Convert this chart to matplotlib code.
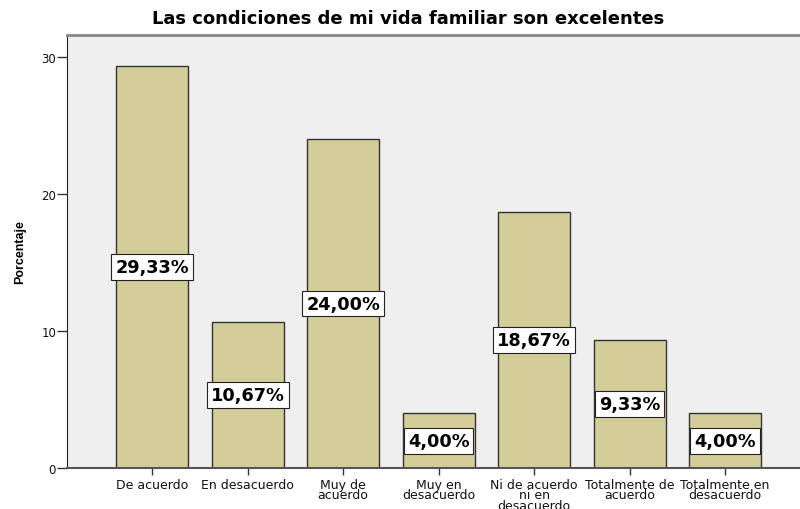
import matplotlib.pyplot as plt

# datos
categorias = ['De acuerdo', 'En desacuerdo', 'Muy de\nacuerdo', 'Muy en\ndesacuerdo',
              'Ni de acuerdo\nni en\ndesacuerdo', 'Totalmente de\nacuerdo', 'Totalmente en\ndesacuerdo']
porcentajes = [29.33, 10.67, 24.00, 4.00, 18.67, 9.33, 4.00]
etiquetas = ['29,33%', '10,67%', '24,00%', '4,00%', '18,67%', '9,33%', '4,00%']

plt.rcParams['font.family'] = ['DejaVu Sans']

fig = plt.figure(figsize=(8, 5.1), dpi=100)
ax = fig.add_axes([0.084, 0.0804, 0.95, 0.849])
ax.set_facecolor('#efefef')

x = list(range(len(categorias)))
ax.bar(x, porcentajes, width=0.754, color='#d3ce99', edgecolor='#333333', linewidth=1.0, zorder=2)

for xi, v, t in zip(x, porcentajes, etiquetas):
    ax.text(xi, v / 2, t, ha='center', va='center', fontsize=12.8, fontweight='bold', zorder=3,
            bbox=dict(boxstyle='square,pad=0.22', facecolor='white', edgecolor='#222222', linewidth=0.8))

ax.set_xlim(-0.89, 7.07)
ax.set_ylim(0, 31.6)
ax.set_yticks([0, 10, 20, 30])
ax.set_xticks(x)
ax.set_xticklabels(categorias, fontsize=9, linespacing=0.76)
ax.tick_params(axis='y', labelsize=8.5, length=7, width=1, pad=1, colors='#333333')
ax.tick_params(axis='x', length=5, width=1, pad=2, colors='#333333')
ax.tick_params(labelcolor='#111111')

ax.spines['right'].set_visible(False)
ax.spines['top'].set_color('#888888')
ax.spines['top'].set_linewidth(2)
ax.spines['left'].set_color('#222222')
ax.spines['bottom'].set_color('#555555')
ax.spines['bottom'].set_linewidth(1.5)

ax.set_ylabel('Porcentaje', fontsize=9, fontweight='bold', labelpad=11, family='Liberation Sans')
fig.text(0.51, 0.962, 'Las condiciones de mi vida familiar son excelentes', ha='center', va='center',
         fontsize=13, fontweight='bold')

plt.savefig('out.png')
